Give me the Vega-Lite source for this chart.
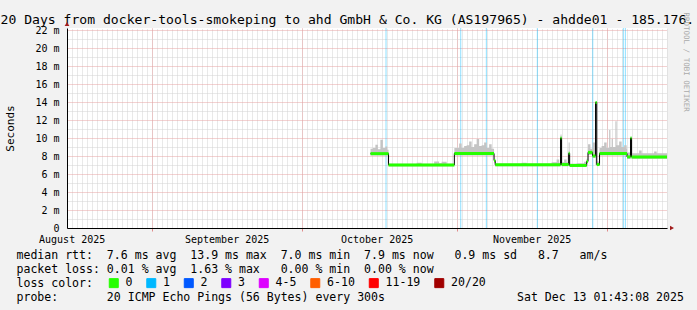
{
  "$schema": "https://vega.github.io/schema/vega-lite/v6.json",
  "width": 600,
  "height": 200,
  "autosize": {"type": "none"},
  "padding": {"left": 67, "top": 28, "right": 30, "bottom": 82},
  "background": "#f2f2f2",
  "config": {
    "view": {"fill": "white", "stroke": null},
    "axis": {"labelFont": "DejaVu Sans Mono", "titleFont": "DejaVu Sans Mono"},
    "legend": {"labelFont": "DejaVu Sans Mono"}
  },
  "resolve": {"axis": {"x": "independent", "y": "independent"}},
  "layer": [
    {
      "data": {"values": [
        {"t": "2025-10-17T21:00", "loss": "1"},
        {"t": "2025-11-01T19:40", "loss": "1"},
        {"t": "2025-11-06T22:30", "loss": "1"},
        {"t": "2025-11-17T03:20", "loss": "1"},
        {"t": "2025-11-28T05:20", "loss": "1"},
        {"t": "2025-12-04T08:10", "loss": "1"},
        {"t": "2025-12-04T17:50", "loss": "1"}
      ]},
      "mark": {"type": "rule", "strokeWidth": 1, "opacity": 0.45},
      "encoding": {
        "x": {"field": "t", "type": "temporal",
          "scale": {"domain": [{"year": 2025, "month": 8, "date": 15, "hours": 1, "minutes": 43, "seconds": 8}, {"year": 2025, "month": 12, "date": 13, "hours": 1, "minutes": 43, "seconds": 8}], "nice": false},
          "axis": {"orient": "bottom", "grid": true, "gridColor": "#d2d2d2", "gridDash": [1, 1], "gridWidth": 1,
            "tickCount": 120, "domain": false, "ticks": false, "labels": false,
            "title": "loss color:", "titleFontSize": 11.55, "titleFontWeight": "normal", "titleColor": "#000000",
            "titleX": -51, "titleY": 58.5, "titleAlign": "left", "titleBaseline": "alphabetic"}},
        "color": {"field": "loss", "type": "nominal",
          "scale": {"domain": ["0", "1", "2", "3", "4-5", "6-10", "11-19", "20/20"], "range": ["#26ff00", "#00b8ff", "#0059ff", "#7e00ff", "#dd00ff", "#ff5e00", "#ff0000", "#a10000"]},
          "legend": {"orient": "none", "legendX": 41, "legendY": 249, "direction": "horizontal", "title": null,
            "symbolType": "square", "symbolSize": 81, "symbolStrokeColor": "#000000", "symbolStrokeWidth": 1, "symbolOpacity": 1,
            "labelFontSize": 11.55, "labelColor": "#000000", "labelOffset": 6, "columnPadding": 11.5, "padding": 0, "offset": 0,
            "encode": {"symbols": {"update": {"fill": {"scale": "color", "field": "value"}, "stroke": {"value": "#000000"}, "strokeWidth": {"value": 1}, "opacity": {"value": 1}}}}}}
      }
    },
    {
      "data": {"values": [
        {"t": "2025-10-14T18:40", "lo": 8.05, "hi": 8.8},
        {"t": "2025-10-15T06:00", "lo": 8.05, "hi": 8.9},
        {"t": "2025-10-15T18:00", "lo": 8.05, "hi": 9.25},
        {"t": "2025-10-16T06:00", "lo": 8.05, "hi": 8.75},
        {"t": "2025-10-16T18:00", "lo": 8.05, "hi": 9.8},
        {"t": "2025-10-17T06:00", "lo": 8.05, "hi": 8.9},
        {"t": "2025-10-17T18:00", "lo": 8.05, "hi": 9.05},
        {"t": "2025-10-18T03:00", "lo": 8.05, "hi": 8.7},
        {"t": "2025-10-18T09:06", "lo": 6.85, "hi": 7.15},
        {"t": "2025-10-24T00:00", "lo": 6.85, "hi": 7.25},
        {"t": "2025-10-25T00:00", "lo": 6.85, "hi": 7.15},
        {"t": "2025-10-27T12:00", "lo": 6.85, "hi": 7.4},
        {"t": "2025-10-28T12:00", "lo": 6.85, "hi": 7.2},
        {"t": "2025-10-29T00:00", "lo": 6.85, "hi": 7.35},
        {"t": "2025-10-30T00:00", "lo": 6.85, "hi": 7.15},
        {"t": "2025-10-31T13:00", "lo": 8.05, "hi": 8.9},
        {"t": "2025-11-01T12:00", "lo": 8.05, "hi": 9.4},
        {"t": "2025-11-02T00:00", "lo": 8.05, "hi": 8.9},
        {"t": "2025-11-02T12:00", "lo": 8.05, "hi": 9.1},
        {"t": "2025-11-03T00:00", "lo": 8.05, "hi": 9.2},
        {"t": "2025-11-03T12:00", "lo": 8.05, "hi": 9.6},
        {"t": "2025-11-04T00:00", "lo": 8.05, "hi": 9.0},
        {"t": "2025-11-04T12:00", "lo": 8.05, "hi": 9.3},
        {"t": "2025-11-05T00:00", "lo": 8.05, "hi": 9.9},
        {"t": "2025-11-05T12:00", "lo": 8.05, "hi": 9.1},
        {"t": "2025-11-06T00:00", "lo": 8.05, "hi": 9.2},
        {"t": "2025-11-06T12:00", "lo": 8.05, "hi": 9.5},
        {"t": "2025-11-07T00:00", "lo": 8.05, "hi": 8.9},
        {"t": "2025-11-07T12:00", "lo": 8.05, "hi": 9.3},
        {"t": "2025-11-08T00:00", "lo": 8.05, "hi": 8.8},
        {"t": "2025-11-08T11:30", "lo": 7.2, "hi": 7.7},
        {"t": "2025-11-08T17:18", "lo": 6.85, "hi": 7.15},
        {"t": "2025-11-14T00:00", "lo": 6.85, "hi": 7.25},
        {"t": "2025-11-15T00:00", "lo": 6.85, "hi": 7.15},
        {"t": "2025-11-20T00:00", "lo": 6.85, "hi": 7.3},
        {"t": "2025-11-21T00:00", "lo": 6.85, "hi": 7.6},
        {"t": "2025-11-21T12:00", "lo": 6.85, "hi": 7.25},
        {"t": "2025-11-21T18:42", "lo": 7.0, "hi": 10.4},
        {"t": "2025-11-21T23:30", "lo": 6.85, "hi": 7.3},
        {"t": "2025-11-22T12:00", "lo": 6.85, "hi": 7.6},
        {"t": "2025-11-23T00:00", "lo": 6.85, "hi": 7.3},
        {"t": "2025-11-23T09:36", "lo": 7.0, "hi": 9.5},
        {"t": "2025-11-23T14:24", "lo": 6.8, "hi": 7.15},
        {"t": "2025-11-25T00:00", "lo": 6.8, "hi": 7.2},
        {"t": "2025-11-26T12:00", "lo": 6.8, "hi": 7.35},
        {"t": "2025-11-27T00:00", "lo": 7.2, "hi": 7.7},
        {"t": "2025-11-27T06:42", "lo": 8.1, "hi": 9.3},
        {"t": "2025-11-27T18:00", "lo": 8.1, "hi": 8.8},
        {"t": "2025-11-28T04:18", "lo": 7.8, "hi": 9.5},
        {"t": "2025-11-28T18:42", "lo": 7.0, "hi": 14.0},
        {"t": "2025-11-29T00:30", "lo": 6.9, "hi": 7.4},
        {"t": "2025-11-29T13:54", "lo": 8.05, "hi": 8.9},
        {"t": "2025-11-30T00:00", "lo": 8.05, "hi": 9.1},
        {"t": "2025-11-30T12:00", "lo": 8.05, "hi": 9.5},
        {"t": "2025-12-01T00:00", "lo": 8.05, "hi": 8.9},
        {"t": "2025-12-01T12:00", "lo": 8.05, "hi": 10.9},
        {"t": "2025-12-01T18:00", "lo": 8.05, "hi": 9.0},
        {"t": "2025-12-02T00:00", "lo": 8.05, "hi": 9.9},
        {"t": "2025-12-02T06:00", "lo": 8.05, "hi": 9.0},
        {"t": "2025-12-02T18:00", "lo": 8.05, "hi": 11.85},
        {"t": "2025-12-03T00:00", "lo": 8.05, "hi": 9.2},
        {"t": "2025-12-03T12:00", "lo": 8.05, "hi": 9.6},
        {"t": "2025-12-04T00:00", "lo": 8.05, "hi": 9.0},
        {"t": "2025-12-04T12:00", "lo": 8.05, "hi": 9.2},
        {"t": "2025-12-05T00:00", "lo": 8.05, "hi": 8.8},
        {"t": "2025-12-05T01:54", "lo": 7.7, "hi": 8.4},
        {"t": "2025-12-05T18:42", "lo": 7.8, "hi": 10.0},
        {"t": "2025-12-05T23:30", "lo": 7.7, "hi": 8.3},
        {"t": "2025-12-07T12:00", "lo": 7.7, "hi": 8.6},
        {"t": "2025-12-08T00:00", "lo": 7.7, "hi": 8.3},
        {"t": "2025-12-10T12:00", "lo": 7.7, "hi": 8.5},
        {"t": "2025-12-11T00:00", "lo": 7.7, "hi": 8.3},
        {"t": "2025-12-13T01:43", "lo": 7.7, "hi": 8.3}
      ]},
      "mark": {"type": "area", "interpolate": "step-after", "color": "#c4c4c4"},
      "encoding": {
        "x": {"field": "t", "type": "temporal",
          "scale": {"domain": [{"year": 2025, "month": 8, "date": 15, "hours": 1, "minutes": 43, "seconds": 8}, {"year": 2025, "month": 12, "date": 13, "hours": 1, "minutes": 43, "seconds": 8}], "nice": false},
          "axis": {"orient": "bottom", "grid": true, "gridColor": "#e6a3a3", "gridDash": [1, 1], "gridWidth": 1,
            "values": [{"year": 2025, "month": 9, "date": 1}, {"year": 2025, "month": 10, "date": 1}, {"year": 2025, "month": 11, "date": 1}, {"year": 2025, "month": 12, "date": 1}],
            "domain": false, "labels": false,
            "ticks": true, "tickColor": "#e08a8a", "tickSize": 3, "title": null}},
        "y": {"field": "lo", "type": "quantitative",
          "scale": {"domain": [0, 22.22], "nice": false, "zero": false},
          "axis": {"orient": "left", "grid": true, "gridColor": "#d2d2d2", "gridDash": [1, 1], "gridWidth": 1,
            "values": [1, 3, 5, 7, 9, 11, 13, 15, 17, 19, 21], "domain": false, "ticks": false, "labels": false, "title": null}},
        "y2": {"field": "hi"}
      }
    },
    {
      "data": {"name": "median"},
      "mark": {"type": "line", "interpolate": "step-after", "color": "#000000", "strokeWidth": 1},
      "encoding": {
        "x": {"field": "t", "type": "temporal",
          "scale": {"domain": [{"year": 2025, "month": 8, "date": 15, "hours": 1, "minutes": 43, "seconds": 8}, {"year": 2025, "month": 12, "date": 13, "hours": 1, "minutes": 43, "seconds": 8}], "nice": false},
          "axis": {"orient": "bottom", "grid": false, "ticks": false, "domain": true, "domainColor": "#000000", "domainWidth": 1,
            "values": [{"year": 2025, "month": 8, "date": 16}, {"year": 2025, "month": 9, "date": 16}, {"year": 2025, "month": 10, "date": 16}, {"year": 2025, "month": 11, "date": 16}],
            "labelExpr": "timeFormat(datum.value, '%B %Y')",
            "labelFontSize": 10, "labelColor": "#000000", "labelBaseline": "middle", "labelPadding": 11,
            "labelFlush": false, "labelOverlap": false,
            "title": [
              "median rtt:\u00a0\u00a07.6 ms avg\u00a0\u00a013.9 ms max\u00a0\u00a07.0 ms min\u00a0\u00a07.9 ms now\u00a0\u00a0\u00a00.9 ms sd\u00a0\u00a0\u00a08.7\u00a0\u00a0\u00a0am/s",
              "packet loss: 0.01 % avg\u00a0\u00a01.63 % max\u00a0\u00a0\u00a00.00 % min\u00a0\u00a00.00 % now"
            ],
            "titleFontSize": 11.55, "titleFontWeight": "normal", "titleColor": "#000000",
            "titleX": -51, "titleY": 30.5, "titleAlign": "left", "titleBaseline": "alphabetic", "titleLineHeight": 14}},
        "y": {"field": "median", "type": "quantitative",
          "scale": {"domain": [0, 22.22], "nice": false, "zero": false},
          "axis": {"orient": "left", "grid": true, "gridColor": "#e6a3a3", "gridDash": [1, 1], "gridWidth": 1,
            "values": [0, 2, 4, 6, 8, 10, 12, 14, 16, 18, 20, 22],
            "labelExpr": "datum.value == 0 ? '0\u00a0\u00a0' : datum.value + ' m'",
            "domain": true, "domainColor": "#000000", "ticks": false, "labelPadding": 8, "labelOffset": 0.5,
            "labelFontSize": 10, "labelColor": "#000000", "labelFlush": false, "labelOverlap": false,
            "title": "Seconds", "titleFontSize": 11, "titleFontWeight": "normal", "titleColor": "#000000",
            "titleX": -57, "titleY": 100, "titleAngle": 270, "titleAlign": "center", "titleBaseline": "middle"}}
      }
    },
    {
      "data": {"name": "median"},
      "mark": {"type": "rule", "strokeWidth": 3, "strokeCap": "butt"},
      "encoding": {
        "x": {"field": "t", "type": "temporal",
          "scale": {"domain": [{"year": 2025, "month": 8, "date": 15, "hours": 1, "minutes": 43, "seconds": 8}, {"year": 2025, "month": 12, "date": 13, "hours": 1, "minutes": 43, "seconds": 8}], "nice": false},
          "axis": null},
        "x2": {"field": "t2"},
        "y": {"field": "median", "type": "quantitative",
          "scale": {"domain": [0, 22.22], "nice": false, "zero": false},
          "axis": {"orient": "right", "domain": false, "ticks": false, "labels": false, "grid": false,
            "title": "RRDTOOL / TOBI OETIKER", "titleFontSize": 7.5, "titleFontWeight": "normal", "titleColor": "#aaaaaa",
            "titleAngle": 90, "titleX": 18.5, "titleY": -16, "titleAlign": "left", "titleBaseline": "middle"}},
        "color": {"field": "loss", "type": "nominal",
          "scale": {"domain": ["0", "1", "2", "3", "4-5", "6-10", "11-19", "20/20"], "range": ["#26ff00", "#00b8ff", "#0059ff", "#7e00ff", "#dd00ff", "#ff5e00", "#ff0000", "#a10000"]},
          "legend": {"orient": "none", "legendX": 41, "legendY": 249, "direction": "horizontal", "title": null,
            "symbolType": "square", "symbolSize": 81, "symbolStrokeColor": "#000000", "symbolStrokeWidth": 1, "symbolOpacity": 1,
            "labelFontSize": 11.55, "labelColor": "#000000", "labelOffset": 6, "columnPadding": 11.5, "padding": 0, "offset": 0,
            "encode": {"symbols": {"update": {"fill": {"scale": "color", "field": "value"}, "stroke": {"value": "#000000"}, "strokeWidth": {"value": 1}, "opacity": {"value": 1}}}}}}
      }
    },
    {
      "data": {"values": [{"t": "2025-08-15T01:43:08", "v": 22.22}]},
      "mark": {"type": "point", "shape": "triangle-up", "filled": true, "color": "#a11d1d", "size": 22, "yOffset": -4, "opacity": 1},
      "encoding": {
        "x": {"field": "t", "type": "temporal",
          "scale": {"domain": [{"year": 2025, "month": 8, "date": 15, "hours": 1, "minutes": 43, "seconds": 8}, {"year": 2025, "month": 12, "date": 13, "hours": 1, "minutes": 43, "seconds": 8}], "nice": false},
          "axis": {"orient": "top", "domain": false, "ticks": false, "labels": false, "grid": false,
            "title": "20 Days from docker-tools-smokeping to ahd GmbH & Co. KG (AS197965) - ahdde01 - 185.176.",
            "titleFontSize": 13.1, "titleFontWeight": "normal", "titleColor": "#000000",
            "titleX": -67, "titleY": -5, "titleAlign": "left", "titleBaseline": "alphabetic"}},
        "y": {"field": "v", "type": "quantitative", "scale": {"domain": [0, 22.22], "nice": false, "zero": false}, "axis": null}
      }
    },
    {
      "data": {"values": [{"t": "2025-12-13T01:43:08", "v": 0}]},
      "mark": {"type": "point", "shape": "triangle-right", "filled": true, "color": "#a11d1d", "size": 22, "xOffset": 5, "opacity": 1},
      "encoding": {
        "x": {"field": "t", "type": "temporal",
          "scale": {"domain": [{"year": 2025, "month": 8, "date": 15, "hours": 1, "minutes": 43, "seconds": 8}, {"year": 2025, "month": 12, "date": 13, "hours": 1, "minutes": 43, "seconds": 8}], "nice": false},
          "axis": {"orient": "bottom", "domain": false, "ticks": false, "labels": false, "grid": false,
            "title": "probe:\u00a0\u00a0\u00a0\u00a0\u00a0\u00a0\u00a020 ICMP Echo Pings (56 Bytes) every 300s\u00a0\u00a0\u00a0\u00a0\u00a0\u00a0\u00a0\u00a0\u00a0\u00a0\u00a0\u00a0\u00a0\u00a0\u00a0\u00a0\u00a0\u00a0\u00a0Sat Dec 13 01:43:08 2025",
            "titleFontSize": 11.55, "titleFontWeight": "normal", "titleColor": "#000000",
            "titleX": -51, "titleY": 72.5, "titleAlign": "left", "titleBaseline": "alphabetic"}},
        "y": {"field": "v", "type": "quantitative", "scale": {"domain": [0, 22.22], "nice": false, "zero": false}, "axis": null}
      }
    }
  ],
  "datasets": {
    "median": [
      {"t": "2025-10-14T18:40", "t2": "2025-10-18T09:06", "median": 8.26, "loss": "0"},
      {"t": "2025-10-18T09:06", "t2": "2025-10-31T13:00", "median": 7.0, "loss": "0"},
      {"t": "2025-10-31T13:00", "t2": "2025-11-08T11:30", "median": 8.28, "loss": "0"},
      {"t": "2025-11-08T11:30", "t2": "2025-11-08T17:18", "median": 7.5, "loss": "0"},
      {"t": "2025-11-08T17:18", "t2": "2025-11-21T18:42", "median": 7.02, "loss": "0"},
      {"t": "2025-11-21T18:42", "t2": "2025-11-21T23:30", "median": 10.0, "loss": "0"},
      {"t": "2025-11-21T23:30", "t2": "2025-11-23T09:36", "median": 7.05, "loss": "0"},
      {"t": "2025-11-23T09:36", "t2": "2025-11-23T14:24", "median": 8.3, "loss": "0"},
      {"t": "2025-11-23T14:24", "t2": "2025-11-27T00:00", "median": 6.95, "loss": "0"},
      {"t": "2025-11-27T00:00", "t2": "2025-11-27T06:42", "median": 7.4, "loss": "0"},
      {"t": "2025-11-27T06:42", "t2": "2025-11-28T04:18", "median": 8.4, "loss": "0"},
      {"t": "2025-11-28T04:18", "t2": "2025-11-28T18:42", "median": 8.0, "loss": "0"},
      {"t": "2025-11-28T18:42", "t2": "2025-11-29T00:30", "median": 13.95, "loss": "0"},
      {"t": "2025-11-29T00:30", "t2": "2025-11-29T13:54", "median": 7.05, "loss": "0"},
      {"t": "2025-11-29T13:54", "t2": "2025-12-05T01:54", "median": 8.28, "loss": "0"},
      {"t": "2025-12-05T01:54", "t2": "2025-12-05T18:42", "median": 7.9, "loss": "0"},
      {"t": "2025-12-05T18:42", "t2": "2025-12-05T23:30", "median": 10.0, "loss": "0"},
      {"t": "2025-12-05T23:30", "t2": "2025-12-13T01:43", "median": 7.9, "loss": "0"},
      {"t": "2025-12-13T01:43", "t2": "2025-12-13T01:43", "median": 7.9, "loss": "0"}
    ]
  }
}
